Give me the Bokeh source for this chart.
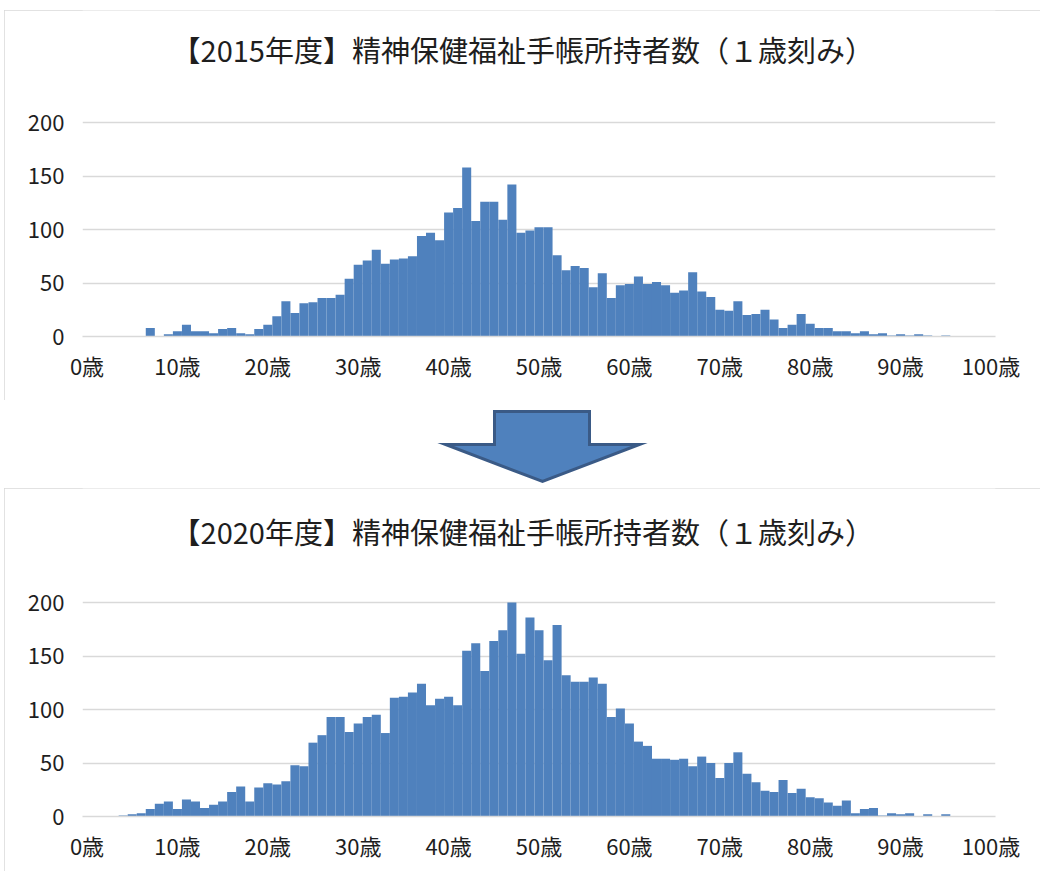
import numpy as np
from bokeh.plotting import figure
from bokeh.models import Range1d, FixedTicker, ColumnDataSource, Spacer
from bokeh.layouts import column, row
from bokeh.core.properties import value
from bokeh.embed import file_html
from bokeh.resources import INLINE

# ---------------- data ----------------
ages = list(range(101))  # 0歳 .. 100歳 (1歳刻み)

counts_2015 = [
    0, 0, 0, 0, 0, 0, 0, 8, 0, 2,
    5, 11, 5, 5, 3, 7, 8, 3, 2, 7,
    11, 19, 33, 22, 31, 32, 36, 36, 39, 54,
    67, 71, 81, 68, 72, 73, 75, 94, 97, 90,
    116, 120, 158, 108, 126, 126, 109, 142, 97, 99,
    102, 102, 76, 62, 66, 64, 46, 59, 36, 48,
    49, 56, 49, 51, 48, 41, 43, 60, 42, 37,
    25, 24, 33, 20, 21, 25, 16, 8, 11, 21,
    12, 8, 8, 5, 5, 3, 5, 2, 3, 1,
    2, 1, 2, 1, 0, 1, 0, 0, 0, 0,
    0,
]

counts_2020 = [
    0, 0, 0, 0, 1, 2, 3, 7, 12, 14,
    7, 16, 14, 8, 11, 14, 23, 28, 14, 27,
    31, 30, 33, 48, 47, 69, 76, 93, 93, 79,
    87, 93, 95, 78, 111, 112, 116, 124, 104, 110,
    112, 104, 155, 162, 136, 164, 174, 200, 152, 186,
    174, 146, 179, 132, 126, 126, 130, 124, 93, 101,
    87, 70, 66, 54, 54, 53, 54, 47, 56, 50,
    36, 50, 60, 40, 32, 24, 23, 34, 22, 26,
    18, 17, 13, 10, 15, 3, 7, 8, 1, 3,
    2, 3, 0, 2, 0, 2, 0, 0, 0, 0,
    0,
]

y_ticks = [0, 50, 100, 150, 200]
x_tick_ages = list(range(0, 101, 10))
x_tick_labels = [f"{a}歳" for a in x_tick_ages]

titles = [
    "【2015年度】精神保健福祉手帳所持者数（１歳刻み）",
    "【2020年度】精神保健福祉手帳所持者数（１歳刻み）",
]

# ---------------- styles ----------------
FONT = "Noto Sans CJK JP"
BAR = "#4F81BD"
GRID = "#D9D9D9"
TEXT = "#1E1E1E"
W = 1036
PX_PER_UNIT = 214 / 200  # vertical scale of the value axis


def make_chart(counts, title, height, frame_bottom, title_from_bottom):
    y_end = frame_bottom / PX_PER_UNIT
    p = figure(
        width=W, height=height,
        x_range=Range1d(0, len(ages)), y_range=Range1d(0, y_end),
        output_backend="svg", toolbar_location=None,
        min_border_left=78, min_border_right=45,
        min_border_top=0, min_border_bottom=height - frame_bottom,
    )
    src = ColumnDataSource(dict(x=np.array(ages) + 0.5, top=counts))
    p.vbar(x="x", top="top", width=1.0, source=src,
           fill_color=BAR, line_color=None)

    # chart title, inside the blank upper part of the frame
    tsrc = ColumnDataSource(dict(x=[48.7], y=[title_from_bottom / PX_PER_UNIT], t=[title]))
    p.text(x="x", y="y", text="t", source=tsrc, text_align="center",
           text_baseline="middle", text_font=value(FONT),
           text_font_size="29px", text_color=TEXT)

    p.xgrid.visible = False
    p.ygrid.ticker = FixedTicker(ticks=y_ticks)
    p.ygrid.grid_line_color = GRID
    p.ygrid.grid_line_width = 1.5

    p.yaxis.ticker = FixedTicker(ticks=y_ticks)
    p.yaxis.axis_line_color = None
    p.yaxis.major_tick_line_color = None
    p.yaxis.minor_tick_line_color = None
    p.yaxis.major_label_standoff = 12
    p.yaxis.major_label_text_font = FONT
    p.yaxis.major_label_text_font_size = "22px"
    p.yaxis.major_label_text_color = TEXT

    tick_pos = [a + 0.5 for a in x_tick_ages]
    p.xaxis.ticker = FixedTicker(ticks=tick_pos)
    p.xaxis.major_label_overrides = {t: lab for t, lab in zip(tick_pos, x_tick_labels)}
    p.xaxis.axis_line_color = GRID
    p.xaxis.axis_line_width = 1.5
    p.xaxis.major_tick_line_color = None
    p.xaxis.minor_tick_line_color = None
    p.xaxis.major_label_standoff = 6
    p.xaxis.major_label_text_font = FONT
    p.xaxis.major_label_text_font_size = "22px"
    p.xaxis.major_label_text_color = TEXT

    p.outline_line_color = None
    p.background_fill_color = "white"
    p.border_fill_color = "white"
    p.styles = {"outline": "1px solid #D9D9D9", "outline-offset": "-1px"}
    return p


p1 = make_chart(counts_2015, titles[0], 390, 326, 288)

# arrow between the two charts (decoration; its frame is aligned with the charts,
# so the ranges are given in page pixels: x 82..995, y 400..488)
arrow = figure(width=W, height=88, x_range=Range1d(82, 995), y_range=Range1d(488, 400),
               output_backend="svg", toolbar_location=None,
               x_axis_location=None, y_axis_location=None,
               min_border=0, min_border_left=0, min_border_right=0,
               min_border_top=0, min_border_bottom=0)
arrow.grid.visible = False
arrow.outline_line_color = None
arrow.background_fill_color = "white"
arrow.border_fill_color = "white"
arrow_x = [494, 589, 589, 639, 542, 445, 494]
arrow_y = [411, 411, 444, 444, 481, 444, 444]
arrow.patch(arrow_x, arrow_y, fill_color=BAR, line_color="#3A5A86",
            line_width=3, line_join="miter")

p2 = make_chart(counts_2020, titles[1], 383, 328, 286)

layout = column(
    Spacer(height=10),
    row(Spacer(width=4), column(p1, arrow, p2, spacing=0), spacing=0),
    spacing=0,
)

open("out.html", "w").write(file_html(layout, INLINE))
